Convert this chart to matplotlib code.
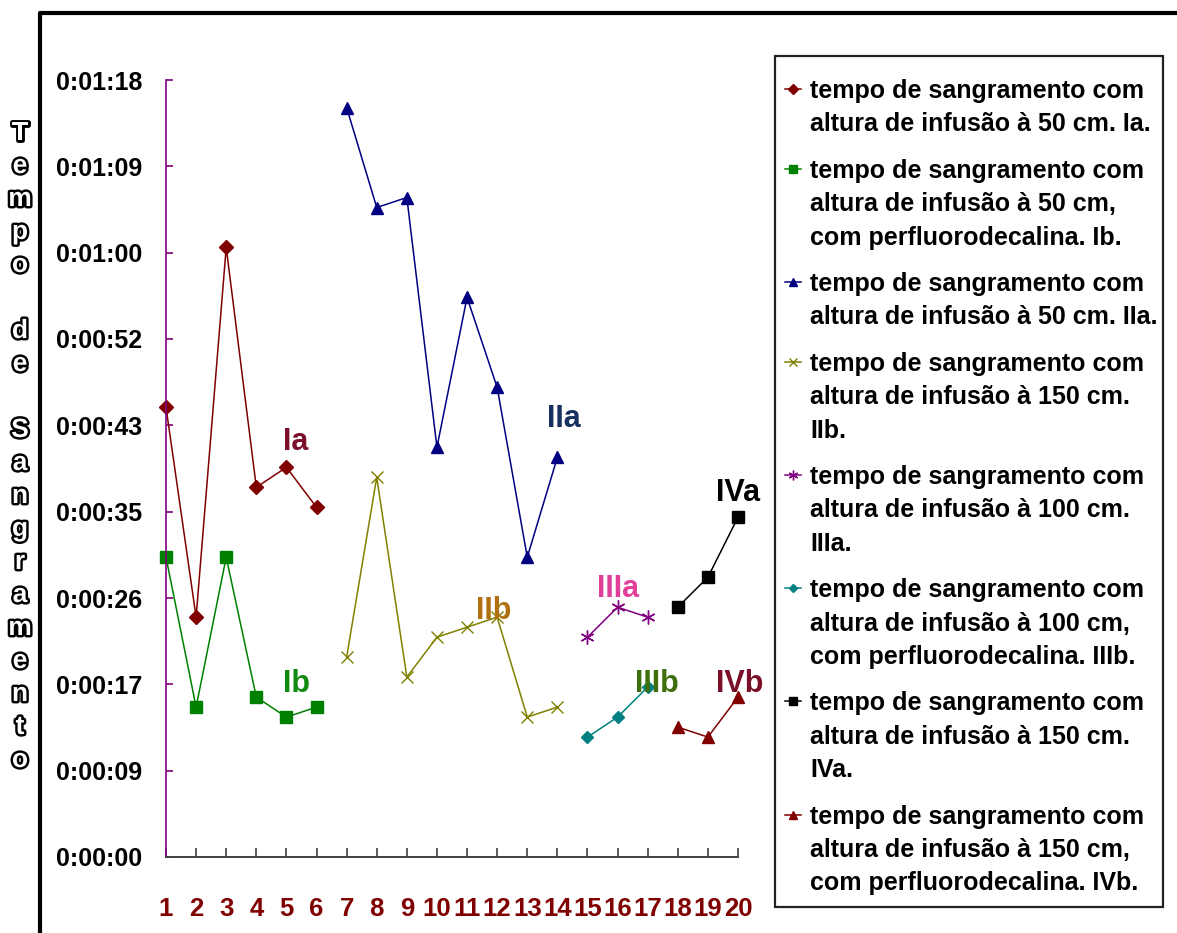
import matplotlib

matplotlib.use("Agg")
import matplotlib.pyplot as plt
import matplotlib.patheffects as pe
from matplotlib.patches import Rectangle

plt.rcParams["font.family"] = ["Liberation Sans", "DejaVu Sans"]
plt.rcParams["font.weight"] = "bold"

# bleeding times in seconds, per group
x_ia = [1, 2, 3, 4, 5, 6]
ia = [45, 24, 61, 37, 39, 35]
x_ib = [1, 2, 3, 4, 5, 6]
ib = [30, 15, 30, 16, 14, 15]
x_iia = [7, 8, 9, 10, 11, 12, 13, 14]
iia = [75, 65, 66, 41, 56, 47, 30, 40]
x_iib = [7, 8, 9, 10, 11, 12, 13, 14]
iib = [20, 38, 18, 22, 23, 24, 14, 15]
x_iiia = [15, 16, 17]
iiia = [22, 25, 24]
x_iiib = [15, 16, 17]
iiib = [12, 14, 17]
x_iva = [18, 19, 20]
iva = [25, 28, 34]
x_ivb = [18, 19, 20]
ivb = [13, 12, 16]

xticks = list(range(1, 21))
ytick_seconds = [0, 8.64, 17.28, 25.92, 34.56, 43.2, 51.84, 60.48, 69.12, 77.76]
ytick_labels = ["0:00:00", "0:00:09", "0:00:17", "0:00:26", "0:00:35",
                "0:00:43", "0:00:52", "0:01:00", "0:01:09", "0:01:18"]

legend_labels = [
    ["tempo de sangramento com", "altura de infusão à 50 cm. Ia."],
    ["tempo de sangramento com", "altura de infusão à 50 cm,", "com perfluorodecalina. Ib."],
    ["tempo de sangramento com", "altura de infusão à 50 cm. IIa."],
    ["tempo de sangramento com", "altura de infusão à 150 cm.", "IIb."],
    ["tempo de sangramento com", "altura de infusão à 100 cm.", "IIIa."],
    ["tempo de sangramento com", "altura de infusão à 100 cm,", "com perfluorodecalina. IIIb."],
    ["tempo de sangramento com", "altura de infusão à 150 cm.", "IVa."],
    ["tempo de sangramento com", "altura de infusão à 150 cm,", "com perfluorodecalina. IVb."],
]
group_names = ["Ia", "Ib", "IIa", "IIb", "IIIa", "IIIb", "IVa", "IVb"]
group_name_pos = [(5.3, 41.5), (5.35, 17.3), (14.2, 43.8), (11.9, 24.6),
                  (16.0, 26.8), (17.3, 17.3), (20.0, 36.4), (20.05, 17.3)]
group_name_colors = ["#7a0f2a", "#108a10", "#17305e", "#b07010",
                     "#e0409a", "#3f6e0c", "#000000", "#7a0f2a"]

asterisk = (6, 2, 0)
series = [
    (x_ia, ia, "#800000", "D", 7),
    (x_ib, ib, "#008000", "s", 8),
    (x_iia, iia, "#000080", "^", 8),
    (x_iib, iib, "#808000", "x", 8),
    (x_iiia, iiia, "#800080", asterisk, 10),
    (x_iiib, iiib, "#008080", "D", 6),
    (x_iva, iva, "#000000", "s", 8),
    (x_ivb, ivb, "#800000", "^", 8),
]

W, H = 1177, 933
fig = plt.figure(figsize=(W / 100, H / 100), dpi=100)

# full-figure overlay in pixel coordinates for frame, legend and y label
ov = fig.add_axes([0, 0, 1, 1])
ov.set_xlim(0, W)
ov.set_ylim(H, 0)
ov.axis("off")
ov.plot([40, 40, W + 5], [H + 5, 13, 13], color="black", lw=3, solid_capstyle="projecting")

ax = fig.add_axes([166 / W, 1 - 857 / H, (738 - 166) / W, (857 - 80) / H])
ax.patch.set_alpha(0)
for xs, ys, c, m, ms in series:
    ax.plot(xs, ys, color=c, lw=1.1, marker=m, ms=ms, mfc=c, mec=c, mew=1.0, clip_on=False)

for name, (tx, ty), c in zip(group_names, group_name_pos, group_name_colors):
    ax.text(tx, ty, name, color=c, fontsize=22, fontweight="bold", ha="center", va="center")

ax.set_xlim(1, 20)
ax.set_ylim(0, 77.76)
ax.set_xticks(xticks)
ax.set_xticklabels([str(v) for v in xticks])
ax.set_yticks(ytick_seconds)
ax.set_yticklabels(ytick_labels)
for s in ("top", "right"):
    ax.spines[s].set_visible(False)
ax.spines["left"].set_color("#800080")
ax.spines["left"].set_linewidth(1.2)
ax.spines["bottom"].set_color("#404040")
ax.spines["bottom"].set_linewidth(1.4)
ax.tick_params(axis="y", direction="in", length=5, width=1.2, color="#800080",
               pad=17, labelsize=18, labelcolor="black")
ax.tick_params(axis="x", direction="in", length=6.5, width=1.2, color="#404040",
               pad=29, labelsize=18.5, labelcolor="#800000")
for lab in ax.get_xticklabels() + ax.get_yticklabels():
    lab.set_fontweight("bold")

# legend box, drawn by hand so the markers sit on the first line of each entry
ov.add_patch(Rectangle((775, 56), 388, 851, fill=True, facecolor="white",
                       edgecolor="#222222", lw=1.6, zorder=3))
line_h = 33.4
entry_gap = 13
y = 89
for lines, (xs, ys, c, m, ms) in zip(legend_labels, series):
    ov.plot([785, 801], [y, y], color=c, lw=1.1, zorder=4)
    ov.plot([793], [y], marker=m, ms=ms * 0.7, color=c, mfc=c, mec=c, zorder=5)
    for i, t in enumerate(lines):
        ov.text(810, y + i * line_h + 9, t, fontsize=18, fontweight="bold",
                ha="left", va="baseline", color="black", zorder=5)
    y += len(lines) * line_h + entry_gap

# stacked outlined y-axis title
title_chars = list("Tempo de Sangramento")
for i, ch in enumerate(title_chars):
    if ch == " ":
        continue
    ov.text(20, 133 + i * 33, ch, fontsize=19, fontweight="bold", color="white",
            ha="center", va="center",
            path_effects=[pe.withStroke(linewidth=3.5, foreground="black")])

fig.savefig("out.png", dpi=100)
